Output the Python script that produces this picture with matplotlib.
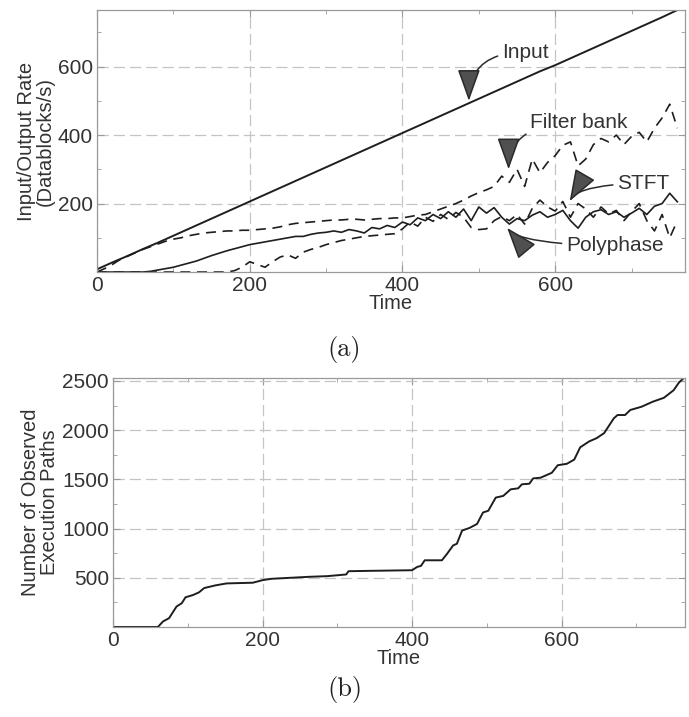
import matplotlib
matplotlib.use("Agg")
import matplotlib.pyplot as plt
from matplotlib.ticker import MultipleLocator

# ---------------- data ----------------
rate_time = list(range(0, 770, 10))
input_time = list(range(0, 780, 20))
input_rate = [8, 28, 47, 67, 86, 106, 126, 146, 166, 186, 206, 226, 246, 266,
              286, 306, 326, 346, 366, 386, 406, 426, 446, 466, 486, 506, 526,
              546, 566, 586, 604, 624, 644, 664, 684, 704, 724, 744, 765]
polyphase = [0, 0, 0, 0, 0, 0, 0,
             2, 6, 10, 14, 20, 26, 32,
             40, 48, 55, 62, 68, 74, 80,
             84, 88, 92, 96, 100, 104, 104,
             110, 114, 116, 120, 116, 124, 120,
             114, 130, 126, 136, 130, 146, 138,
             158, 150, 168, 156, 176, 160, 184,
             150, 190, 172, 188, 160, 140, 156,
             150, 166, 176, 160, 168, 180, 150,
             128, 160, 176, 182, 168, 176, 160,
             172, 186, 168, 192, 200, 230, 205]
stft = [0, 0, 0, 0, 0, 0, 0,
        0, 0, 0, 0, 0, 0, 0,
        0, 0, 0, 0, 4, 14, 30,
        22, 14, 30, 44, 50, 40, 58,
        66, 72, 80, 86, 92, 96, 100,
        104, 106, 108, 110, 112, 126, 146,
        134, 160, 148, 168, 154, 174, 160,
        130, 124, 126, 150, 162, 150, 168,
        140, 186, 210, 190, 178, 206, 160,
        200, 184, 160, 190, 170, 180, 150,
        176, 200, 150, 120, 168, 100, 150]
filter_bank = [0, 10, 22, 36, 46, 56, 66,
               74, 82, 90, 96, 100, 106, 110,
               114, 116, 118, 120, 120, 122, 122,
               124, 126, 128, 132, 138, 142, 144,
               146, 148, 150, 152, 152, 154, 154,
               152, 154, 156, 156, 158, 158, 162,
               166, 168, 176, 184, 192, 200, 210,
               222, 232, 240, 250, 280, 262, 300,
               250, 330, 290, 320, 340, 370, 380,
               310, 330, 372, 390, 380, 400, 372,
               396, 408, 380, 420, 450, 490, 420]

paths_time = [0, 60, 67, 75, 85, 92, 97, 107, 115, 122, 137, 152, 187, 200, 212,
              237, 262, 287, 312, 315, 337, 400, 407, 412, 417, 440, 447, 455,
              460, 467, 477, 487, 495, 502, 512, 522, 532, 542, 547, 557, 562,
              572, 587, 595, 607, 617, 625, 637, 647, 657, 670, 675, 685, 692,
              707, 722, 737, 750, 757, 765]
paths_count = [0, 0, 57, 90, 208, 242, 302, 325, 352, 396, 423, 443, 450, 476,
               490, 500, 510, 517, 534, 567, 570, 577, 611, 621, 678, 678, 745,
               829, 846, 980, 1007, 1047, 1164, 1181, 1315, 1332, 1399, 1409,
               1450, 1456, 1510, 1517, 1567, 1644, 1658, 1701, 1826, 1886, 1919,
               1970, 2121, 2154, 2154, 2205, 2238, 2289, 2329, 2406, 2483, 2540]

rate_yticks = [200, 400, 600]
rate_xticks = [0, 200, 400, 600]
paths_yticks = [500, 1000, 1500, 2000, 2500]

# ---------------- style ----------------
plt.rcParams['font.family'] = ['Liberation Sans', 'DejaVu Sans']
TXT = '#333333'
LINE = '#1e1e1e'
SPINE = '#9a9a9a'
GRID = '#c4c4c4'
FS = 15

fig = plt.figure(figsize=(6.89, 7.17), dpi=100)
ax1 = fig.add_axes([0.1408, 0.6206, 0.8534, 0.3654])
ax2 = fig.add_axes([0.164, 0.1255, 0.830, 0.3473])


def style(ax):
    for s in ax.spines.values():
        s.set_color(SPINE)
        s.set_linewidth(0.9)
    ax.tick_params(which='both', direction='in', top=True, right=True,
                   color=SPINE, labelcolor=TXT, labelsize=FS)
    ax.tick_params(which='major', length=5, pad=3)
    ax.tick_params(which='minor', length=3)
    ax.grid(True, which='major', color=GRID, linestyle=(0, (9, 4)), linewidth=0.9)
    ax.set_axisbelow(True)


# ---- (a) ----
dash = (0, (6, 4))
ax1.plot(input_time, input_rate, color=LINE, lw=1.4)
ax1.plot(rate_time, polyphase, color=LINE, lw=1.2)
ax1.plot(rate_time, stft, color=LINE, lw=1.2, linestyle=dash)
ax1.plot(rate_time, filter_bank, color=LINE, lw=1.2, linestyle=dash)
ax1.set_xlim(0, 770)
ax1.set_ylim(0, 765)
ax1.set_xticks(rate_xticks)
ax1.set_yticks(rate_yticks)
ax1.xaxis.set_minor_locator(MultipleLocator(100))
ax1.yaxis.set_minor_locator(MultipleLocator(100))
style(ax1)
ax1.set_xlabel('Time', fontsize=14.5, color=TXT, labelpad=-1)
ax1.set_ylabel('Input/Output Rate\n(Datablocks/s)', fontsize=14.5, color=TXT,
               labelpad=2, linespacing=1.0)

ap = dict(arrowstyle='-|>,head_length=0.95,head_width=0.34', mutation_scale=21,
          color='#2a2a2a', fc='#505050', lw=1.1, shrinkA=1, shrinkB=0)

ax1.annotate('Input', xy=(487, 500), xytext=(530, 642), fontsize=FS, color=TXT,
             ha='left', va='center',
             arrowprops=dict(ap, connectionstyle='angle3,angleA=0,angleB=90'))
ax1.annotate('Filter bank', xy=(539, 300), xytext=(567, 437), fontsize=FS,
             color=TXT, ha='left', va='center',
             arrowprops=dict(ap, connectionstyle='angle3,angleA=0,angleB=90'))
ax1.annotate('STFT', xy=(619, 207), xytext=(681, 258), fontsize=FS, color=TXT,
             ha='left', va='center',
             arrowprops=dict(ap, connectionstyle='angle3,angleA=0,angleB=60'))
ax1.annotate('Polyphase', xy=(537, 129), xytext=(614, 78), fontsize=FS,
             color=TXT, ha='left', va='center',
             arrowprops=dict(ap, connectionstyle='angle3,angleA=0,angleB=-50'))

# ---- (b) ----
ax2.plot(paths_time, paths_count, color=LINE, lw=1.4)
ax2.set_xlim(0, 765)
ax2.set_ylim(0, 2530)
ax2.set_xticks(rate_xticks)
ax2.set_yticks(paths_yticks)
ax2.xaxis.set_minor_locator(MultipleLocator(100))
ax2.yaxis.set_minor_locator(MultipleLocator(250))
style(ax2)
ax2.set_xlabel('Time', fontsize=14.5, color=TXT, labelpad=-1)
ax2.set_ylabel('Number of Observed\nExecution Paths', fontsize=14.5, color=TXT,
               labelpad=2, linespacing=1.0)

fig.text(0.50, 0.512, '(a)', fontsize=19, family='cmr10', ha='center',
         va='center', color='#222222')
fig.text(0.50, 0.038, '(b)', fontsize=19, family='cmr10', ha='center',
         va='center', color='#222222')

fig.savefig('out.png', dpi=100)
